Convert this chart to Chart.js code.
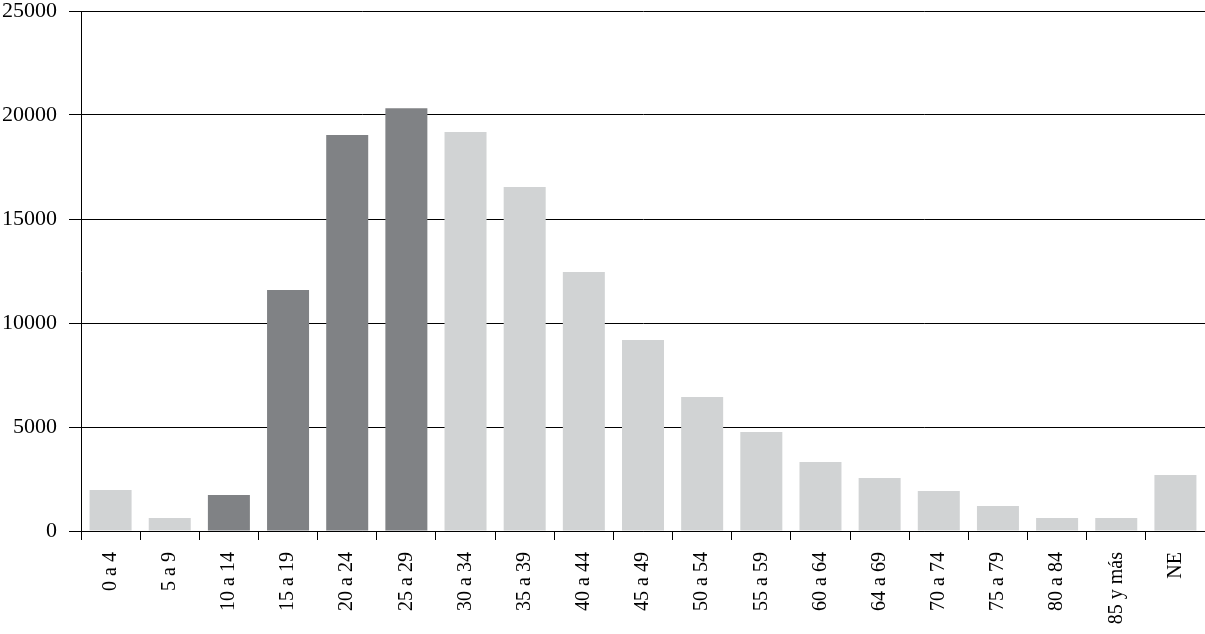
<!DOCTYPE html>
<html>
<head>
<meta charset="utf-8">
<script src="https://cdn.jsdelivr.net/npm/chart.js@4"></script>
<style>
  html, body { margin: 0; padding: 0; background: #fff; }
  #wrap { width: 1205px; height: 634px; }
</style>
</head>
<body>
<div id="wrap"><canvas id="chart"></canvas></div>
<script>
// Grupos de edad
const categories = ['0 a 4', '5 a 9', '10 a 14', '15 a 19', '20 a 24', '25 a 29', '30 a 34',
  '35 a 39', '40 a 44', '45 a 49', '50 a 54', '55 a 59', '60 a 64', '64 a 69',
  '70 a 74', '75 a 79', '80 a 84', '85 y más', 'NE'];
const values = [1970, 630, 1730, 11590, 19040, 20330, 19180, 16540, 12450, 9180,
  6440, 4760, 3320, 2550, 1920, 1200, 630, 630, 2690];
// grupos destacados en gris oscuro
const highlighted = ['10 a 14', '15 a 19', '20 a 24', '25 a 29'];
const yTicks = [0, 5000, 10000, 15000, 20000, 25000];

const light = '#d1d3d4';
const dark = '#808285';

new Chart(document.getElementById('chart'), {
  type: 'bar',
  data: {
    labels: categories,
    datasets: [{
      data: values,
      backgroundColor: categories.map(c => highlighted.includes(c) ? dark : light),
      borderWidth: 0,
      categoryPercentage: 1,
      barPercentage: 0.71
    }]
  },
  options: {
    responsive: true,
    maintainAspectRatio: false,
    animation: false,
    layout: { padding: { top: 11, right: 0, left: 0, bottom: 0 } },
    plugins: {
      legend: { display: false },
      tooltip: { enabled: false }
    },
    scales: {
      x: {
        afterFit: s => { s.height = 103; s.paddingLeft = 0; s.paddingRight = 0; },
        grid: {
          offset: true,
          drawOnChartArea: false,
          color: '#000',
          tickLength: 9,
          lineWidth: 1
        },
        border: { color: '#000', width: 1 },
        ticks: {
          color: '#000',
          font: { family: 'Liberation Serif', size: 20 },
          minRotation: 90,
          maxRotation: 90,
          padding: 12,
          autoSkip: false
        }
      },
      y: {
        min: 0,
        max: 25000,
        afterFit: s => { s.width = 81; s.paddingTop = 0; s.paddingBottom = 0; },
        afterBuildTicks: s => { s.ticks = yTicks.map(v => ({ value: v })); },
        grid: {
          color: '#000',
          tickLength: 12,
          lineWidth: 1
        },
        border: { color: '#000', width: 1 },
        ticks: {
          color: '#000',
          font: { family: 'Liberation Serif', size: 22 },
          padding: 12,
          callback: v => String(v)
        }
      }
    }
  }
});
</script>
</body>
</html>
